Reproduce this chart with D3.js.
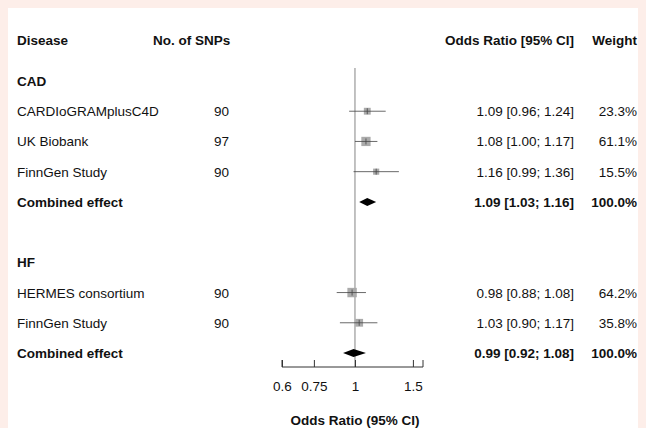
<!DOCTYPE html>
<html><head><meta charset="utf-8">
<script src="https://cdn.jsdelivr.net/npm/d3@7"></script>
<style>
body{margin:0;background:#fdeee9;}
svg{display:block;font-family:"Liberation Sans",Arial,sans-serif;}
</style></head>
<body><div id="chart"></div>
<script>
const rowLabels = ["CAD","CARDIoGRAMplusC4D","UK Biobank","FinnGen Study","Combined effect","","HF","HERMES consortium","FinnGen Study","Combined effect"];
const rowType   = ["group","study","study","study","total","blank","group","study","study","total"];
const snps      = ["","90","97","90","","","","90","90",""];
const orVal     = [null,1.09,1.08,1.16,1.09,null,null,0.98,1.03,0.99];
const ciLow     = [null,0.96,1.00,0.99,1.03,null,null,0.88,0.90,0.92];
const ciHigh    = [null,1.24,1.17,1.36,1.16,null,null,1.08,1.17,1.08];
const weights   = [null,23.3,61.1,15.5,100,null,null,64.2,35.8,100];
const xTicks    = [0.6,0.75,1,1.5];

const W = 646, H = 428, FS = 13.5;
const svg = d3.select("#chart").append("svg").attr("width", W).attr("height", H);
svg.append("rect").attr("x",8).attr("y",8).attr("width",W-16).attr("height",H-8).attr("fill","#fff");

const fmt = d3.format(".2f");
const y = d3.scaleLinear().domain([0, 9]).range([81, 353]);
const x = d3.scaleLog().domain([0.6, 1.61]).range([282, 423]);
const axisY = 367;

const hdr = svg.append("g").attr("font-size",FS).attr("font-weight","bold").attr("fill","#111");
hdr.append("text").attr("x",17).attr("y",45).text("Disease");
hdr.append("text").attr("x",153).attr("y",45).text("No. of SNPs");
hdr.append("text").attr("x",574).attr("y",45).attr("text-anchor","end").text("Odds Ratio [95% CI]");
hdr.append("text").attr("x",637).attr("y",45).attr("text-anchor","end").text("Weight");

// reference line
svg.append("line").attr("x1",x(1)).attr("x2",x(1)).attr("y1",68).attr("y2",axisY)
  .attr("stroke","#999").attr("stroke-width",1.2);

rowLabels.forEach((lab, i) => {
  const t = rowType[i], yy = y(i);
  if (t === "blank") return;
  const bold = t !== "study";
  svg.append("text").attr("x",17).attr("y",yy+5).attr("font-size",FS)
    .attr("font-weight", bold ? "bold" : "normal").attr("fill","#111").text(lab);
  if (t === "group") return;
  svg.append("text").attr("x",214).attr("y",yy+5).attr("font-size",FS).attr("fill","#111").text(snps[i]);
  svg.append("text").attr("x",574).attr("y",yy+5).attr("font-size",FS).attr("text-anchor","end")
    .attr("font-weight", bold ? "bold" : "normal").attr("fill","#111")
    .text(`${fmt(orVal[i])} [${fmt(ciLow[i])}; ${fmt(ciHigh[i])}]`);
  svg.append("text").attr("x",637).attr("y",yy+5).attr("font-size",FS).attr("text-anchor","end")
    .attr("font-weight", bold ? "bold" : "normal").attr("fill","#111")
    .text(weights[i].toFixed(1) + "%");
  if (t === "study") {
    const s = 3 + Math.sqrt(weights[i]) * 0.8;
    svg.append("rect").attr("x",x(orVal[i])-s/2).attr("y",yy-s/2).attr("width",s).attr("height",s)
      .attr("fill","#aaa");
    svg.append("line").attr("x1",x(ciLow[i])).attr("x2",x(ciHigh[i])).attr("y1",yy).attr("y2",yy)
      .attr("stroke","#444").attr("stroke-width",0.8);
    svg.append("line").attr("x1",x(orVal[i])).attr("x2",x(orVal[i])).attr("y1",yy-3).attr("y2",yy+3)
      .attr("stroke","#444").attr("stroke-width",0.8);
  } else {
    svg.append("path").attr("fill","#000")
      .attr("d",`M${x(ciLow[i])},${yy}L${x(orVal[i])},${yy-4}L${x(ciHigh[i])},${yy}L${x(orVal[i])},${yy+4}Z`);
  }
});

const ax = svg.append("g").attr("transform",`translate(0,${axisY})`)
  .call(d3.axisBottom(x).tickValues(xTicks).tickFormat(d => String(d)).tickSize(-7).tickPadding(14));
ax.select(".domain").attr("d",`M${x.range()[0]},-7V0H${x.range()[1]}V-7`).attr("stroke","#333");
ax.selectAll(".tick line").attr("stroke","#333");
ax.selectAll("text").attr("font-size",FS).attr("font-family","Liberation Sans, Arial, sans-serif").attr("fill","#111");
svg.append("text").attr("x",x(1)).attr("y",425).attr("text-anchor","middle").attr("fill","#111")
  .attr("font-size",FS).attr("font-weight","bold").text("Odds Ratio (95% CI)");
</script></body></html>
